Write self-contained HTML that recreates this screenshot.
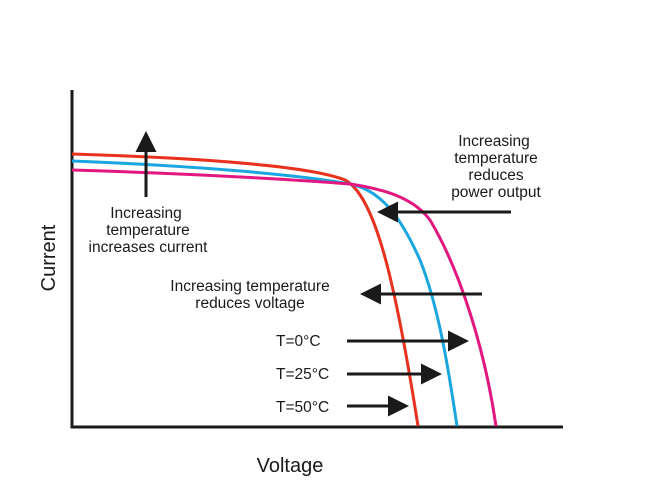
<!DOCTYPE html>
<html><head><style>body{margin:0;background:#fff}svg{display:block}text{font-family:"Liberation Sans",sans-serif;fill:#1a1a1a}</style></head><body>
<svg width="650" height="490" viewBox="0 0 650 490">
<defs><marker id="a" markerWidth="7" markerHeight="7" refX="6" refY="3.5" orient="auto" markerUnits="strokeWidth"><path d="M0,0L7,3.5L0,7z" fill="#1a1a1a"/></marker></defs>
<path d="M72,90V427H563" fill="none" stroke="#1a1a1a" stroke-width="3"/>
<path d="M72,154C200,158 310,166 345,180C375,196 395,280 418,426" fill="none" stroke="#e8321e" stroke-width="3"/>
<path d="M72,161C200,166 300,175 350,184C380,190 400,215 420,260C440,310 450,380 457,426" fill="none" stroke="#1aa6e0" stroke-width="3"/>
<path d="M72,170C200,174 300,180 350,184C390,190 415,200 430,220C460,270 485,350 496,426" fill="none" stroke="#e2177f" stroke-width="3"/>
<g stroke="#1a1a1a" stroke-width="3" marker-end="url(#a)">
<line x1="146" y1="197" x2="146" y2="134"/>
<line x1="511" y1="212" x2="380" y2="212"/>
<line x1="482" y1="294" x2="363" y2="294"/>
<line x1="347" y1="341" x2="466" y2="341"/>
<line x1="347" y1="374" x2="439" y2="374"/>
<line x1="347" y1="406" x2="406" y2="406"/>
</g>
<g font-size="15.5" text-anchor="middle">
<text x="146" y="218">Increasing</text><text x="148" y="235">temperature</text><text x="148" y="252">increases current</text>
<text x="494" y="146">Increasing</text><text x="496" y="163">temperature</text><text x="496" y="180">reduces</text><text x="496" y="197">power output</text>
<text x="250" y="291">Increasing temperature</text><text x="250" y="308">reduces voltage</text>
</g>
<g font-size="15.5"><text x="276" y="346">T=0°C</text><text x="276" y="379">T=25°C</text><text x="276" y="412">T=50°C</text></g>
<text x="290" y="472" font-size="20" text-anchor="middle">Voltage</text>
<text transform="translate(55,258) rotate(-90)" font-size="20" text-anchor="middle">Current</text>
</svg></body></html>
